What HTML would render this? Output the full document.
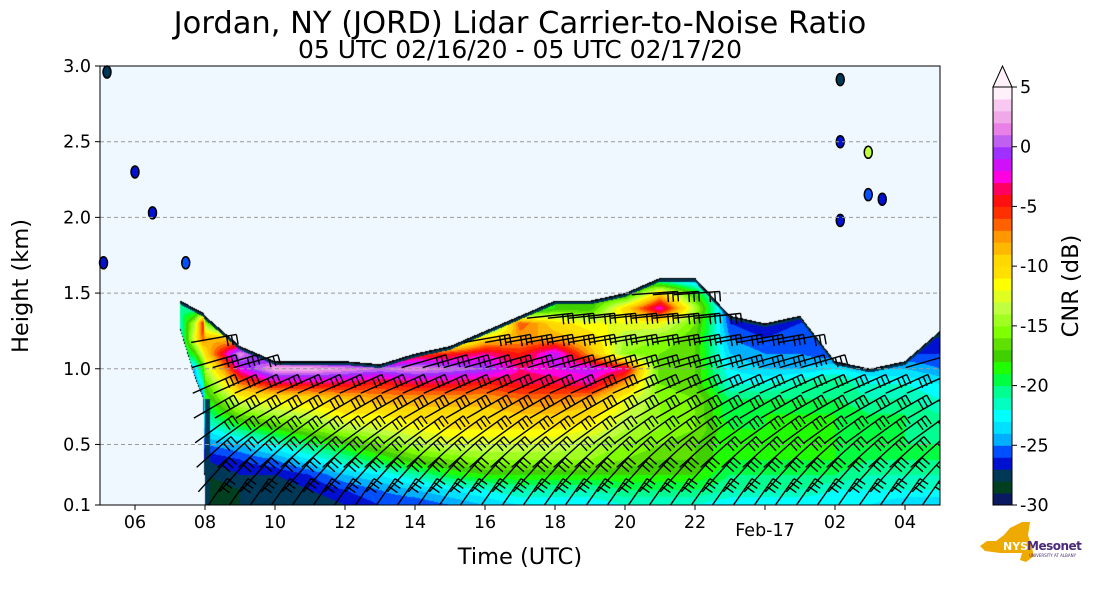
<!DOCTYPE html>
<html><head><meta charset="utf-8"><style>
body{margin:0;background:#fff;width:1093px;height:600px;overflow:hidden;font-family:"DejaVu Sans","Liberation Sans",sans-serif}
#wrap{position:relative;width:1093px;height:600px}
canvas{position:absolute;left:100px;top:66px}
svg{position:absolute;left:0;top:0}
</style></head><body>
<div id="wrap">
<canvas id="cv" width="840" height="439"></canvas>
<svg id="sv" width="1093" height="600"><defs><clipPath id="pc"><rect x="100" y="66" width="840" height="439"/></clipPath></defs></svg>
</div>
<script>
const times=[5,6,7,7.2,7.3,7.7,7.95,8,9,10,11,12,13,14,15,16,17,18,19,20,21,22,23,24,25,26,27,28,29];
const tops=[0,0,0,0,1.45,1.4,1.37,1.35,1.15,1.05,1.05,1.05,1.03,1.1,1.15,1.25,1.35,1.45,1.45,1.5,1.6,1.6,1.35,1.3,1.35,1.05,1.0,1.05,1.25];
const bottoms=[3,3,3,3,1.25,0.95,0.8,0.1,0.1,0.1,0.1,0.1,0.1,0.1,0.1,0.1,0.1,0.1,0.1,0.1,0.1,0.1,0.1,0.1,0.1,0.1,0.1,0.1,0.1];
const heights=[0.1,0.2,0.3,0.4,0.5,0.6,0.7,0.8,0.9,1.0,1.1,1.2,1.3,1.4,1.5,1.6];
const cnr=[
[-28],[-28],[-28],[-28],
[-22,-22,-22,-22,-22,-22,-22,-22,-22,-22,-22,-22,-21,-20,-22],
[-26,-26,-26,-26,-26,-26,-26,-26,-25,-24,-18,-12,-14,-22],
[-27,-27,-27,-27,-27,-27,-27,-26,-22,-18,-12,-6,-4,-20],
[-29,-29,-28,-27,-25,-23,-21,-19,-17,-14,-10,-8,-15,-24,-28],
[-28,-28,-27,-26,-24,-20,-16,-12,-7,-2,2,-10,-28],
[-28,-28,-27,-25,-22,-18,-14,-11,-4,3,-5,-26],
[-28,-27,-26,-23,-20,-16,-13,-10,-4,3,-8,-26],
[-27,-26,-24,-21,-18,-14,-11,-9,-4,2,-10,-26],
[-26,-25,-23,-19,-16,-13,-11,-8,-5,1,-10,-26],
[-26,-24,-21,-17,-14,-12,-10,-8,-4,2,-6,-20],
[-25,-23,-19,-16,-13,-11,-10,-8,-4,1,-5,-18],
[-24,-22,-18,-15,-13,-11,-10,-8,-5,0,-3,-10,-22],
[-23,-21,-18,-15,-13,-11,-9,-7,-4,-3,-5,-8,-6,-22],
[-23,-21,-18,-15,-13,-11,-9,-7,-4,-2,-1,-8,-10,-18],
[-23,-21,-18,-15,-14,-12,-10,-8,-3,-1,-8,-10,-12,-18],
[-22,-20,-18,-16,-15,-14,-13,-12,-8,-3,-15,-14,-12,-10,-20],
[-22,-20,-18,-17,-16,-15,-15,-15,-16,-17,-16,-15,-12,-2,-10,-24],
[-22,-20,-18,-17,-17,-16,-16,-16,-17,-17,-17,-17,-16,-14,-18,-26],
[-23,-21,-20,-19,-19,-19,-20,-20,-22,-23,-24,-25,-26,-27],
[-23,-21,-20,-19,-19,-19,-19,-20,-22,-24,-25,-26,-27],
[-23,-21,-20,-19,-19,-19,-19,-20,-21,-24,-25,-25,-26,-27],
[-23,-22,-20,-19,-19,-19,-19,-20,-20,-23,-26],
[-23,-22,-21,-20,-20,-20,-20,-21,-22,-24,-27],
[-24,-22,-21,-20,-20,-20,-20,-21,-22,-24,-26],
[-24,-22,-21,-20,-20,-21,-21,-22,-23,-25,-26,-27,-28]];
const colors=['#0a1a60','#004020','#003858','#0010d0','#0050ff','#00b0ff','#00e0ff','#00ffff','#00ffc0','#00ff90','#00ff40','#20ff00','#40d000','#60e000','#80ff00','#a0ff20','#c0ff40','#e0ff20','#ffff00','#ffe000','#ffd800','#ffb800','#ff9800','#ff6000','#ff3000','#ff1010','#ff0060','#ff00e0','#d010f8','#a030ff','#c060f0','#e880e8','#f0a8e8','#f8c8f0','#fff0fa'];
const blobs=[[5.2,2.96,-28],[6.0,2.3,-27],[6.5,2.03,-27],[7.45,1.7,-26],[5.1,1.7,-27],[26.15,2.91,-28],[26.15,2.5,-27],[26.15,1.98,-27],[26.95,2.43,-14],[26.95,2.15,-26],[27.35,2.12,-27]];
const barbTimes=[];for(let t=8.25;t<29;t+=0.6)barbTimes.push(t);
const barbHeights=[0.15,0.3,0.45,0.6,0.75,0.9,1.05,1.2,1.35,1.5];
const barbAngles=[55,48,42,36,30,24,16,10,6,4];
const yTicks=[0.1,0.5,1.0,1.5,2.0,2.5,3.0];
const xTicks=[6,8,10,12,14,16,18,20,22,24,26,28];
const xLabels=['06','08','10','12','14','16','18','20','22','Feb-17','02','04'];
const cbTicks=[5,0,-5,-10,-15,-20,-25,-30];

const X0=100,X1=940,Y0=66,Y1=505;
const xs=t=>X0+(t-5)/24*(X1-X0);
const ys=h=>Y1-(h-0.1)/2.9*(Y1-Y0);
const cbY=v=>505-(v+30)/35*418;
const colOf=v=>colors[Math.max(0,Math.min(34,Math.floor(v+30)))];
function hex(c){return [parseInt(c.substr(1,2),16),parseInt(c.substr(3,2),16),parseInt(c.substr(5,2),16)];}
const rgb=colors.map(hex);
function colVal(i,h){const r=cnr[i];let f=(h-0.1)/0.1;if(f<0)f=0;let k=Math.floor(f),fr=f-k;const a=r[Math.min(k,r.length-1)],b=r[Math.min(k+1,r.length-1)];return a+(b-a)*fr;}
const cv=document.getElementById('cv'),ctx=cv.getContext('2d');
const img=ctx.createImageData(840,439);const bg=[240,248,255];
for(let px=0;px<840;px++){const t=5+(px+0.5)/840*24;let i=0;while(i<times.length-2&&times[i+1]<t)i++;const fr=Math.max(0,Math.min(1,(t-times[i])/(times[i+1]-times[i])));
const top=tops[i]+(tops[i+1]-tops[i])*fr,bot=bottoms[i]+(bottoms[i+1]-bottoms[i])*fr;
for(let py=0;py<439;py++){const h=0.1+(439-py-0.5)/439*2.9;let c=bg;
if(h<=top&&h>=bot){let v=colVal(i,h)*(1-fr)+colVal(i+1,h)*fr;if(top-h<0.025)v=-28;if(top-h<0.01||h-bot<0.01&&bot>0.15)c=[0,0,0];else c=rgb[Math.max(0,Math.min(34,Math.floor(v+30)))];}
const o=(py*840+px)*4;img.data[o]=c[0];img.data[o+1]=c[1];img.data[o+2]=c[2];img.data[o+3]=255;}}
ctx.putImageData(img,0,0);
ctx.fillStyle='#003858';ctx.fillRect(105,333,5,106);
const NS='http://www.w3.org/2000/svg',sv=document.getElementById('sv');
function el(tag,at,txt,parent){const e=document.createElementNS(NS,tag);for(const k in at)e.setAttribute(k,at[k]);if(txt!==undefined)e.textContent=txt;(parent||sv).appendChild(e);return e;}
blobs.forEach(b=>{const e=el('ellipse',{cx:xs(b[0]),cy:ys(b[1]),rx:4,ry:6,fill:colOf(b[2]),stroke:'#000','stroke-width':1.5});

});
yTicks.forEach(v=>{if(v>0.4&&v<3){const g=el('line',{x1:X0,x2:X1,y1:ys(v),y2:ys(v),stroke:'#999','stroke-dasharray':'4,3','stroke-width':1});

}});
const bg2=el('g',{'clip-path':'url(#pc)',});
function topAt(t){let i=0;while(i<times.length-2&&times[i+1]<t)i++;const fr=(t-times[i])/(times[i+1]-times[i]);return [tops[i]+(tops[i+1]-tops[i])*fr,bottoms[i]+(bottoms[i+1]-bottoms[i])*fr];}
barbTimes.forEach(t=>{const [tp,bt]=topAt(t);barbHeights.forEach((h,j)=>{if(h>tp-0.05||h<bt)return;
const a=barbAngles[j]*Math.PI/180,L=46,cx=xs(t),cy=ys(h);const x1=cx-L/2*Math.cos(a),y1=cy+L/2*Math.sin(a),x2=cx+L/2*Math.cos(a),y2=cy-L/2*Math.sin(a);
let d=`M${x1},${y1}L${x2},${y2}`;for(let k=0;k<3;k++){const bx=x2-Math.cos(a)*k*5,by=y2+Math.sin(a)*k*5;d+=`M${bx},${by}l${Math.sin(a)*10},${Math.cos(a)*10}`;}
const p=el('path',{d:d,stroke:'#000','stroke-width':1.4,fill:'none'},undefined,bg2);

});});
el('rect',{x:X0,y:Y0,width:X1-X0,height:Y1-Y0,fill:'none',stroke:'#000','stroke-width':1,});
yTicks.forEach(v=>{el('line',{x1:X0-5,x2:X0,y1:ys(v),y2:ys(v),stroke:'#000'});
const t=el('text',{x:X0-9,y:ys(v)+6,'text-anchor':'end','font-size':17.5},v.toFixed(1));

});
xTicks.forEach((v,i)=>{el('line',{x1:xs(v),x2:xs(v),y1:Y1,y2:Y1+5,stroke:'#000'});
const t=el('text',{x:xs(v),y:i==9?536:528,'text-anchor':'middle','font-size':17.5},xLabels[i]);

});
el('text',{x:520,y:33,'text-anchor':'middle','font-size':30.5,},'Jordan, NY (JORD) Lidar Carrier-to-Noise Ratio');
el('text',{x:520,y:58,'text-anchor':'middle','font-size':25,},'05 UTC 02/16/20 - 05 UTC 02/17/20');
el('text',{x:520,y:564,'text-anchor':'middle','font-size':22.5,},'Time (UTC)');
el('text',{x:28,y:286,'text-anchor':'middle','font-size':22.5,transform:'rotate(-90 28 286)',},'Height (km)');
colors.forEach((c,i)=>{const r=el('rect',{x:993,y:cbY(i-29),width:19,height:418/35+0.5,fill:c});

});
el('path',{d:'M993,87L1002.5,66L1012,87Z',fill:'#fff0fa',stroke:'#000',});
el('rect',{x:993,y:87,width:19,height:418,fill:'none',stroke:'#000'});
cbTicks.forEach(v=>{el('line',{x1:1012,x2:1017,y1:cbY(v),y2:cbY(v),stroke:'#000'});
const t=el('text',{x:1020,y:cbY(v)+6,'font-size':17.5},String(v));

});
el('text',{x:1078,y:286,'text-anchor':'middle','font-size':22.5,transform:'rotate(-90 1078 286)',},'CNR (dB)');
el('path',{d:'M1010,528L1022,522L1030,522L1028,535L1032,548L1034,556L1026,562L1020,560L1022,553L1000,553L985,551L980,546L987,541L996,541L1004,535Z',fill:'#eeaa00',});
el('text',{x:1003,y:550,'font-size':11,'font-weight':'bold',fill:'#fff',},'NYS');
el('text',{x:1027,y:550,'font-size':12,'font-weight':'bold',fill:'#4b2a7a','letter-spacing':'-0.5',},'Mesonet');
el('text',{x:1029,y:557,'font-size':4,fill:'#4b2a7a',},'UNIVERSITY AT ALBANY');
</script>
</body></html>
